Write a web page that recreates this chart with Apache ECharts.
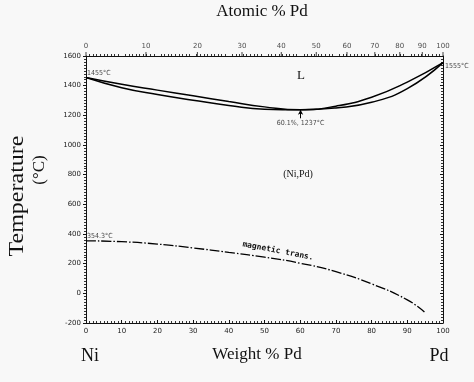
<!DOCTYPE html>
<html><head><meta charset="utf-8">
<script src="https://cdn.jsdelivr.net/npm/echarts@6/dist/echarts.min.js"></script>
<style>html,body{margin:0;padding:0;background:#f8f8f8}#c{width:474px;height:382px}</style>
</head><body><div id="c"></div>
<script>
// Weight % Pd positions of the liquidus / solidus readings
const weightPct = [0, 10, 20, 30, 40, 50, 60.1, 70, 80, 90, 100];
const liquidus  = [1455, 1409, 1370, 1332, 1293, 1257, 1237, 1262, 1322, 1424, 1555];
const solidus   = [1455, 1386, 1340, 1302, 1267, 1241, 1237, 1250, 1288, 1380, 1555];
// magnetic transformation (Curie) line
const magWeight = [0, 10, 20, 30, 40, 50, 60, 70, 80, 90, 94.8];
const magTemp   = [354.3, 348, 332, 306, 276, 244, 203, 146, 64, -44, -126];
// top axis: atomic % Pd tick labels and their weight % positions
const atomicTicks      = [0, 10, 20, 30, 40, 50, 60, 70, 80, 90, 100];
const atomicTickWeight = [0, 16.8, 31.2, 43.7, 54.7, 64.5, 73.1, 80.9, 87.9, 94.2, 100];

const tickFont = {fontFamily: 'DejaVu Sans', fontSize: 7, color: '#222'};

const chart = echarts.init(document.getElementById('c'));
const pairs = (xs, ys) => xs.map((x, i) => [x, ys[i]]);
const plain = v => String(v);

chart.setOption({
  backgroundColor: '#f8f8f8',
  animation: false,
  grid: {left: 86, right: 31, top: 56, bottom: 59},
  xAxis: [
    {type: 'value', min: 0, max: 100, interval: 10, position: 'bottom',
     axisLine: {show: true, onZero: false, lineStyle: {color: '#111', width: 1}},
     axisTick: {show: true, inside: true, length: 3, lineStyle: {color: '#111'}},
     minorTick: {show: true, splitNumber: 10, length: 2, lineStyle: {color: '#333'}},
     splitLine: {show: false},
     axisLabel: Object.assign({margin: 5, formatter: plain}, tickFont)},
    {type: 'value', min: 0, max: 100, interval: 10, position: 'top',
     axisLine: {show: true, onZero: false, lineStyle: {color: '#111', width: 1}},
     axisTick: {show: false},
     minorTick: {show: true, splitNumber: 10, length: 2, lineStyle: {color: '#333'}},
     splitLine: {show: false},
     axisLabel: {show: false}}
  ],
  yAxis: [
    {type: 'value', min: -200, max: 1600, interval: 200, position: 'left',
     axisLine: {show: true, onZero: false, lineStyle: {color: '#111', width: 1}},
     axisTick: {show: true, length: 3, lineStyle: {color: '#111'}},
     minorTick: {show: true, splitNumber: 10, length: 2, lineStyle: {color: '#333'}},
     splitLine: {show: false},
     axisLabel: Object.assign({margin: 5, formatter: plain}, tickFont)},
    {type: 'value', min: -200, max: 1600, interval: 200, position: 'right',
     axisLine: {show: true, onZero: false, lineStyle: {color: '#111', width: 1}},
     axisTick: {show: true, inside: true, length: 3, lineStyle: {color: '#111'}},
     minorTick: {show: true, splitNumber: 10, length: 2, lineStyle: {color: '#333'}},
     splitLine: {show: false},
     axisLabel: {show: false}}
  ],
  series: [
    {name: 'liquidus', type: 'line', data: pairs(weightPct, liquidus), smooth: true,
     symbol: 'none', lineStyle: {color: '#000', width: 1.5}},
    {name: 'solidus', type: 'line', data: pairs(weightPct, solidus), smooth: true,
     symbol: 'none', lineStyle: {color: '#000', width: 1.5},
     markLine: {silent: true, symbol: ['none', 'arrow'], symbolSize: [4, 5],
       lineStyle: {color: '#000', width: 1, type: 'solid'}, label: {show: false},
       data: [[{coord: [60.1, 1180]}, {coord: [60.1, 1237]}]]}},
    {name: 'magnetic', type: 'line', data: pairs(magWeight, magTemp), smooth: true,
     symbol: 'none', lineStyle: {color: '#000', width: 1.3, type: [10, 2, 1.5, 2]}},
    {name: 'topTicks', type: 'scatter', xAxisIndex: 1, clip: false, silent: true,
     symbol: 'rect', symbolSize: [1, 4], symbolOffset: [0, -2],
     itemStyle: {color: '#111'},
     data: atomicTickWeight.map((w, i) => ({value: [w, 1600], name: String(atomicTicks[i])})),
     label: Object.assign({show: true, position: 'top', distance: 2, formatter: p => p.name}, tickFont)},
    {name: 'notes', type: 'scatter', clip: false, silent: true, symbolSize: 0,
     label: {show: true, fontFamily: 'DejaVu Sans Condensed', fontSize: 7, color: '#111'},
     data: [
       {value: [0, 1455], label: {position: 'right', distance: 1, offset: [0, -4], formatter: '1455°C'}},
       {value: [100, 1555], label: {position: 'right', distance: 2, offset: [0, 4], formatter: '1555°C'}},
       {value: [60.1, 1237], label: {position: 'bottom', distance: 10, formatter: '60.1%, 1237°C'}},
       {value: [0, 354.3], label: {position: 'right', distance: 1, offset: [0, -5], formatter: '354.3°C'}}
     ]}
  ],
  graphic: [
    {type: 'text', x: 262, y: 12, style: {text: 'Atomic % Pd', font: '17px "Liberation Serif"', fill: '#111', align: 'center', verticalAlign: 'middle'}},
    {type: 'text', x: 257, y: 355, style: {text: 'Weight % Pd', font: '17px "Liberation Serif"', fill: '#111', align: 'center', verticalAlign: 'middle'}},
    {type: 'text', x: 90, y: 356, style: {text: 'Ni', font: '18px "Liberation Serif"', fill: '#111', align: 'center', verticalAlign: 'middle'}},
    {type: 'text', x: 439, y: 356, style: {text: 'Pd', font: '18px "Liberation Serif"', fill: '#111', align: 'center', verticalAlign: 'middle'}},
    {type: 'text', x: 18, y: 196, rotation: Math.PI / 2, scaleX: 1.2,
     style: {text: 'Temperature', font: '20px "Liberation Serif"', fill: '#111', align: 'center', verticalAlign: 'middle'}},
    {type: 'text', x: 40, y: 170, rotation: Math.PI / 2,
     style: {text: '(°C)', font: '17px "Liberation Serif"', fill: '#111', align: 'center', verticalAlign: 'middle'}},
    {type: 'text', x: 301, y: 76, style: {text: 'L', font: '13px "Liberation Serif"', fill: '#111', align: 'center', verticalAlign: 'middle'}},
    {type: 'text', x: 298, y: 174, style: {text: '(Ni,Pd)', font: '10px "Liberation Serif"', fill: '#111', align: 'center', verticalAlign: 'middle'}},
    {type: 'text', x: 278, y: 251, rotation: -0.19,
     style: {text: 'magnetic trans.', font: 'bold 8px "DejaVu Sans Mono"', fill: '#111', align: 'center', verticalAlign: 'middle'}}
  ]
});
</script></body></html>
